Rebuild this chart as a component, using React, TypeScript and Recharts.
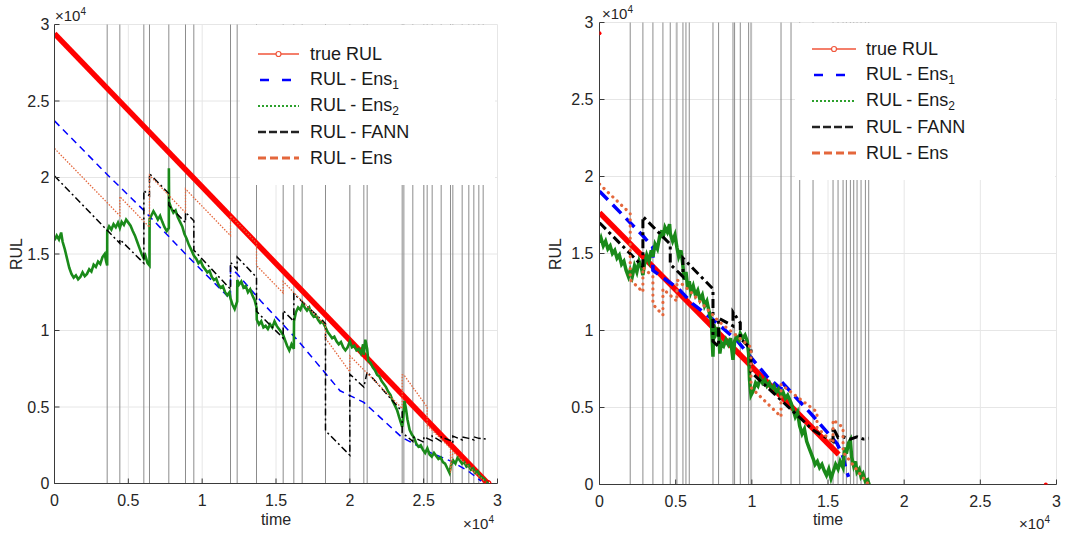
import React from 'react';
import {
  ComposedChart,
  Line,
  XAxis,
  YAxis,
  CartesianGrid,
  ReferenceLine,
  Legend,
} from 'recharts';

type Pt = [number, number];

// shared axes
const xTicks = [0, 5000, 10000, 15000, 20000, 25000, 30000];
const yTicks = [0, 5000, 10000, 15000, 20000, 25000, 30000];
const tickText = ['0', '0.5', '1', '1.5', '2', '2.5', '3'];

const legendNames = ['true RUL', 'RUL - Ens', 'RUL - Ens', 'RUL - FANN', 'RUL - Ens'];
const legendSubs = ['', '1', '2', '', ''];

// ---------- left panel ----------
const eventsA = [
  3567, 4425, 6050, 6433, 7742, 8871, 9435, 11919, 12370, 13680, 15486, 16208, 16772,
  18352, 20000, 20948, 21174, 23545, 23659, 24265, 25011, 25237, 25575, 26185, 26817,
  26975, 27607, 28058, 28397, 28736, 29029,
];

const trueA: Pt[] = [[0, 29400], [29350, 0]];

const ens1A: Pt[] = [
  [0, 23700], [3567, 20200], [6050, 17850], [8871, 15000], [11919, 12050], [11919, 14100],
  [12370, 13700], [14000, 11900], [16500, 9330], [19340, 6060], [20948, 5300], [23545, 3000],
  [25500, 2000], [26800, 1480], [28000, 825], [28900, 150],
];

const ens2A: Pt[] = [
  [0, 15900], [150, 16200], [300, 15950], [450, 16400], [550, 15800], [700, 15300], [850, 14700],
  [1000, 14100], [1150, 13700], [1300, 13450], [1450, 13600], [1600, 13350], [1750, 13500],
  [1900, 13800], [2050, 13550], [2200, 13700], [2350, 14000], [2500, 13850], [2650, 14300],
  [2800, 14150], [2950, 14500], [3100, 14350], [3250, 14800], [3400, 15000], [3500, 14500],
  [3567, 14250], [3570, 16500], [3700, 16800], [3850, 16600], [4000, 16950], [4150, 16750],
  [4300, 17050], [4425, 16700], [4550, 17100], [4700, 16900], [4850, 17250], [5000, 17050],
  [5150, 16850], [5300, 16500], [5450, 16200], [5600, 15800], [5750, 15400], [5900, 15000],
  [6050, 14700], [6150, 14900], [6300, 14400], [6433, 14250], [6440, 17300], [6550, 17500],
  [6700, 17800], [6850, 17550], [7000, 17250], [7150, 17500], [7300, 17100], [7450, 16750],
  [7600, 16500], [7742, 16700], [7745, 20600], [7760, 18400], [7900, 18000], [8050, 17700],
  [8200, 17850], [8350, 17400], [8500, 17100], [8650, 16800], [8800, 16300], [8950, 16000],
  [9100, 15600], [9250, 15300], [9435, 14900], [9600, 14700], [9750, 14400], [9900, 14550],
  [10050, 14200], [10200, 14000], [10350, 13800], [10500, 13900], [10650, 13500], [10800, 13300],
  [10950, 13400], [11100, 13000], [11250, 12800], [11400, 12900], [11550, 12500], [11700, 12300],
  [11850, 12500], [11919, 12100], [12050, 11700], [12200, 11400], [12370, 11900], [12380, 13300],
  [12500, 13000], [12650, 13200], [12800, 12800], [12950, 12900], [13100, 12500], [13250, 12700],
  [13400, 12300], [13550, 12000], [13680, 11500], [13700, 10700], [13850, 10400], [14000, 10600],
  [14150, 10200], [14300, 10300], [14450, 10100], [14600, 10400], [14750, 10200], [14900, 10600],
  [15050, 10300], [15200, 10100], [15350, 9900], [15486, 9700], [15600, 9400], [15750, 9000],
  [15900, 8700], [16050, 9100], [16208, 8800], [16220, 10600], [16350, 11200], [16500, 11500],
  [16650, 11350], [16800, 11750], [16950, 11500], [17100, 11300], [17250, 11500], [17400, 11100],
  [17550, 10900], [17700, 11000], [17850, 10700], [18000, 10500], [18150, 10600], [18352, 10200],
  [18500, 9900], [18650, 9700], [18800, 9500], [18950, 9600], [19100, 9300], [19250, 9100],
  [19400, 9250], [19550, 8900], [19700, 8700], [19850, 8900], [20000, 9300], [20150, 8900],
  [20300, 9000], [20450, 8700], [20600, 8800], [20750, 8500], [20900, 9100], [20948, 8400],
  [21050, 9400], [21174, 8800], [21250, 8000], [21400, 7900], [21550, 7600], [21700, 7400],
  [21850, 7100], [22000, 7000], [22150, 6700], [22300, 6500], [22450, 6300], [22600, 6000],
  [22750, 5800], [22900, 5400], [23050, 5100], [23200, 4800], [23350, 4300], [23545, 3700],
  [23600, 4100], [23700, 5400], [23800, 4900], [23900, 4200], [24050, 3500], [24200, 3200],
  [24350, 3000], [24500, 2600], [24650, 2400], [24800, 2500], [24950, 2200], [25100, 2000],
  [25250, 2300], [25400, 1900], [25550, 1750], [25700, 2000], [25850, 1800], [26000, 1600],
  [26150, 1700], [26300, 1400], [26450, 1300], [26600, 1000], [26750, 700], [26850, 1200],
  [27000, 1500], [27150, 1300], [27300, 1700], [27450, 1500], [27600, 1300], [27750, 1400],
  [27900, 1100], [28050, 1200], [28200, 900], [28350, 1000], [28500, 700], [28650, 800],
  [28800, 500], [28950, 400], [29100, 300], [29250, 100], [29350, 0],
];

const fannA: Pt[] = [
  [0, 20100], [3567, 16550], [4425, 15700], [4425, 15950], [6050, 14400], [6050, 19150],
  [6433, 18800], [6433, 20250], [7742, 18950], [7742, 18170], [8871, 17050], [8871, 17730],
  [9435, 17170], [9435, 15250], [11919, 12700], [11919, 14450], [12370, 14000], [12370, 14800],
  [13680, 13480], [13680, 11250], [15486, 9500], [15486, 11300], [16208, 10600], [16208, 12400],
  [18352, 10450], [18352, 3450], [20000, 1850], [20000, 7150], [20948, 6300], [21174, 7300],
  [23545, 4700], [23545, 3330], [24265, 2750], [24265, 3050], [25011, 2700], [25011, 3050],
  [25575, 2800], [25575, 3100], [26185, 2750], [26185, 3050], [26817, 2800], [26975, 2650],
  [26975, 3100], [27607, 2850], [27607, 3050], [28058, 2950], [28397, 2850], [28397, 3050],
  [28736, 2950], [29300, 2900],
];

const ensA: Pt[] = [
  [0, 21900], [4425, 17500], [4425, 18750], [6433, 16750], [6433, 20150], [8871, 17700],
  [8871, 19250], [11919, 16200], [11919, 17500], [13680, 15720], [13680, 14250], [15486, 12450],
  [15486, 13200], [18352, 10350], [18352, 9500], [20000, 7300], [20000, 8350], [23545, 4900],
  [23545, 7100], [23659, 7100], [25237, 5000], [25237, 3800], [26817, 2300], [26817, 700],
  [26975, 2100], [27607, 1500], [28397, 800], [29300, 0],
];

// ---------- right panel ----------
const eventsB = [
  2016, 2849, 3506, 4163, 4644, 5083, 5478, 5675, 5892, 7449, 7817, 8763, 8868, 9242, 9790,
  9945, 11916, 12573, 13143, 14018, 15331, 15660, 15989, 16206, 16469, 16688, 16907, 17170,
  17455, 17673,
];

const trueB: Pt[] = [[0, 17650], [15700, 1950]];
const marksB: Pt[] = [[0, 29300], [29300, 0]];

const ens1B: Pt[] = [
  [0, 19050], [2016, 17000], [2849, 16150], [3506, 15400], [3506, 13900], [5200, 12700],
  [6100, 11750], [7449, 10700], [9025, 9350], [11000, 7000], [11916, 6200], [11916, 6700],
  [12573, 6000], [14060, 4400], [15600, 2650], [15989, 1800], [16200, 900], [16350, 500],
];

const ens2B: Pt[] = [
  [0, 15700], [100, 16000], [250, 15500], [400, 15800], [550, 15300], [700, 15500], [850, 15000],
  [1000, 15200], [1150, 14700], [1300, 14900], [1450, 14300], [1600, 14500], [1750, 13900],
  [1900, 13500], [2016, 13900], [2150, 13500], [2300, 14200], [2450, 13800], [2600, 14500],
  [2750, 14100], [2849, 13600], [2950, 14300], [3100, 14900], [3250, 14500], [3400, 15200],
  [3506, 14800], [3650, 15600], [3800, 15300], [3950, 16100], [4100, 16500], [4163, 16000],
  [4300, 16700], [4450, 16400], [4600, 16900], [4644, 16300], [4800, 15800], [4950, 16200],
  [5083, 15400], [5200, 14800], [5350, 15200], [5478, 14200], [5550, 13300], [5675, 13800],
  [5800, 12700], [5892, 13200], [6000, 12500], [6150, 12900], [6300, 12300], [6450, 12600],
  [6600, 12000], [6750, 12300], [6900, 11600], [7050, 11900], [7200, 11200], [7350, 10600],
  [7449, 8300], [7500, 10400], [7650, 9800], [7817, 10200], [7900, 8500], [8000, 9200],
  [8150, 9000], [8300, 9400], [8450, 9100], [8600, 9500], [8763, 8100], [8868, 9300],
  [9000, 9600], [9150, 9400], [9242, 9800], [9400, 9500], [9550, 9700], [9700, 9300],
  [9790, 8500], [9850, 6800], [9945, 5800], [10100, 6100], [10250, 6600], [10400, 6400],
  [10550, 6900], [10700, 6600], [10850, 6800], [11000, 6400], [11150, 6600], [11300, 6200],
  [11450, 6400], [11600, 6000], [11750, 6200], [11916, 5800], [12050, 6000], [12200, 5600],
  [12350, 5800], [12573, 5300], [12700, 4900], [12850, 4400], [13000, 4700], [13143, 3800],
  [13300, 3300], [13450, 3600], [13600, 2800], [13750, 2400], [13900, 2000], [14018, 1700],
  [14150, 1300], [14300, 1500], [14450, 1100], [14600, 1300], [14750, 900], [14900, 600],
  [15050, 1000], [15200, 400], [15331, 800], [15500, 1300], [15660, 1000], [15800, 1500],
  [15989, 1100], [16100, 2400], [16206, 2000], [16350, 2700], [16469, 2900], [16550, 1800],
  [16688, 1200], [16800, 1500], [16907, 800], [17050, 1000], [17170, 500], [17300, 700],
  [17455, 200], [17600, 300], [17700, 0],
];

const fannB: Pt[] = [
  [0, 17000], [2849, 14150], [2849, 17400], [4644, 15600], [4644, 14300], [5478, 13500],
  [5478, 14700], [7449, 12700], [7449, 9300], [7817, 8950], [7817, 10800], [8763, 10300],
  [8763, 11200], [9242, 10500], [9242, 9500], [9945, 8800], [9945, 7300], [14060, 3500],
  [15331, 2800], [15331, 3700], [15660, 3050], [16000, 3100], [16469, 2950], [16907, 3100],
  [17300, 2950], [17673, 3000],
];

const ensB: Pt[] = [
  [0, 19500], [2016, 17600], [2016, 13300], [2849, 12500], [2849, 14100], [3506, 13500],
  [3506, 11700], [4163, 11000], [4163, 12700], [5083, 11900], [5083, 13300], [5892, 12600],
  [7449, 11000], [7817, 10600], [9945, 8900], [9945, 6300], [11916, 4400], [11916, 6500],
  [12573, 6000], [14280, 4700], [14280, 3700], [15331, 2700], [15331, 4200], [15989, 3700],
  [15989, 2100], [16469, 1500], [17000, 800], [17673, 0],
];

const C = {
  red: '#ff0000',
  legendRed: '#f0553a',
  blue: '#0000ff',
  green: '#1a8a1a',
  black: '#000000',
  orange: '#e4673c',
  event: '#8c8c8c',
  grid: '#e6e6e6',
  axis: '#3a3a3a',
  text: '#262626',
};

const FONT = '"Liberation Sans", Arial, Helvetica, sans-serif';

const pts = (a: Pt[]) => a.map(([t, v]) => ({ t, v }));
const fmt = (v: number) => tickText[xTicks.indexOf(v)] ?? '';

const endDot = (n: number) => (p: any) => {
  if (p.index !== n - 1) return <g key={`d${p.index}`} />;
  return (
    <circle key={`d${p.index}`} cx={p.cx} cy={p.cy} r={3} fill="none" stroke={C.red} strokeWidth={1.2} />
  );
};

const markDot = (p: any) => (
  <circle key={`m${p.index}`} cx={p.cx} cy={p.cy} r={2} fill={C.red} stroke="none" />
);

function Sample({ i, w }: { i: number; w: number }) {
  const y = 7;
  if (i === 0)
    return (
      <svg width={w} height={14}>
        <line x1={0} x2={w} y1={y} y2={y} stroke={C.legendRed} strokeWidth={1.5} />
        <circle cx={w / 2} cy={y} r={2.5} fill="#fff" stroke={C.legendRed} strokeWidth={1.2} />
      </svg>
    );
  if (i === 1)
    return (
      <svg width={w} height={14}>
        <line x1={2} x2={w} y1={y} y2={y} stroke={C.blue} strokeWidth={2.5} strokeDasharray="9 13" />
      </svg>
    );
  if (i === 2)
    return (
      <svg width={w} height={14}>
        <line x1={0} x2={w} y1={y} y2={y} stroke="#2ca02c" strokeWidth={2} strokeDasharray="2 2" />
      </svg>
    );
  if (i === 3)
    return (
      <svg width={w} height={14}>
        <line x1={0} x2={w} y1={y} y2={y} stroke="#222" strokeWidth={2.5} strokeDasharray="8 3" />
      </svg>
    );
  return (
    <svg width={w} height={14}>
      <line x1={0} x2={w} y1={y} y2={y} stroke={C.orange} strokeWidth={3} strokeDasharray="8 4" />
    </svg>
  );
}

interface LegendBox {
  left: number;
  top: number;
  width: number;
  height: number;
  padTop: number;
  padLeft: number;
  sampleW: number;
  gap: number;
  rowH: number;
}

interface PanelProps {
  x: number;
  width: number;
  top: number;
  right: number;
  xAxisH: number;
  yTickMargin: number;
  events: number[];
  trueRul: Pt[];
  trueEndDot: boolean;
  ens1: Pt[];
  ens2: Pt[];
  fann: Pt[];
  ens: Pt[];
  marks?: Pt[];
  bold: boolean;
  legend: LegendBox;
}

function Panel(p: PanelProps) {
  const lg = p.legend;
  const renderLegend = () => (
    <div style={{ paddingTop: lg.padTop, paddingLeft: lg.padLeft, fontFamily: FONT }}>
      {legendNames.map((name, i) => (
        <div key={i} style={{ height: lg.rowH, display: 'flex', alignItems: 'center' }}>
          <Sample i={i} w={lg.sampleW} />
          <span style={{ marginLeft: lg.gap, fontSize: 18, color: '#1a1a1a', whiteSpace: 'nowrap' }}>
            {name}
            {legendSubs[i] && <sub style={{ fontSize: 12, verticalAlign: -4 }}>{legendSubs[i]}</sub>}
          </span>
        </div>
      ))}
    </div>
  );

  const w = p.bold;
  return (
    <div style={{ position: 'absolute', left: p.x, top: 0 }}>
      <ComposedChart
        width={p.width}
        height={533}
        margin={{ top: p.top, right: p.right, bottom: 0, left: 0 }}
        style={{ fontFamily: FONT }}
      >
        <CartesianGrid stroke={C.grid} strokeWidth={1} />
        <XAxis
          dataKey="t"
          type="number"
          domain={[0, 30000]}
          ticks={xTicks}
          interval={0}
          allowDataOverflow
          height={p.xAxisH}
          tickFormatter={fmt}
          tickSize={-5}
          tickMargin={16}
          tick={{ fill: C.text, fontSize: 16 }}
          axisLine={{ stroke: C.axis }}
          tickLine={{ stroke: C.axis }}
          label={{ value: 'time', position: 'insideBottom', offset: 8, fill: C.text, fontSize: 16 }}
        />
        <XAxis
          xAxisId="top"
          orientation="top"
          type="number"
          domain={[0, 30000]}
          ticks={xTicks}
          interval={0}
          height={0}
          tick={false}
          tickSize={-5}
          axisLine={{ stroke: C.axis }}
          tickLine={{ stroke: C.axis }}
        />
        <YAxis
          type="number"
          domain={[0, 30000]}
          ticks={yTicks}
          interval={0}
          allowDataOverflow
          width={54.5}
          tickFormatter={fmt}
          tickSize={-5}
          tickMargin={p.yTickMargin}
          tick={{ fill: C.text, fontSize: 16 }}
          axisLine={{ stroke: C.axis }}
          tickLine={{ stroke: C.axis }}
        />
        <YAxis
          yAxisId="right"
          orientation="right"
          type="number"
          domain={[0, 30000]}
          ticks={yTicks}
          interval={0}
          width={0}
          tick={false}
          tickSize={-5}
          axisLine={{ stroke: C.axis }}
          tickLine={{ stroke: C.axis }}
        />
        {p.events.map((t) => (
          <ReferenceLine key={t} x={t} stroke={C.event} strokeWidth={1} />
        ))}
        <Line
          data={pts(p.trueRul)}
          dataKey="v"
          type="linear"
          stroke={C.red}
          strokeWidth={5.5}
          dot={p.trueEndDot ? endDot(p.trueRul.length) : false}
          isAnimationActive={false}
        />
        {p.marks && (
          <Line
            data={pts(p.marks)}
            dataKey="v"
            type="linear"
            stroke="none"
            dot={markDot}
            isAnimationActive={false}
          />
        )}
        <Line
          data={pts(p.ens1)}
          dataKey="v"
          type="linear"
          stroke={C.blue}
          strokeWidth={w ? 3.5 : 1.5}
          strokeDasharray={w ? '12 7' : '7 5'}
          dot={false}
          isAnimationActive={false}
        />
        <Line
          data={pts(p.ens2)}
          dataKey="v"
          type="linear"
          stroke={C.green}
          strokeWidth={w ? 3.5 : 2.6}
          dot={false}
          isAnimationActive={false}
        />
        <Line
          data={pts(p.fann)}
          dataKey="v"
          type="linear"
          stroke={C.black}
          strokeWidth={w ? 3 : 1.5}
          strokeDasharray={w ? '9 4 3 4' : '7 3 2 3'}
          dot={false}
          isAnimationActive={false}
        />
        <Line
          data={pts(p.ens)}
          dataKey="v"
          type="linear"
          stroke={C.orange}
          strokeWidth={w ? 3.2 : 1.3}
          strokeDasharray={w ? '0.1 6' : '1.5 1.5'}
          strokeLinecap={w ? 'round' : 'butt'}
          dot={false}
          isAnimationActive={false}
        />
        <Legend
          layout="vertical"
          align="center"
          verticalAlign="middle"
          content={renderLegend}
          wrapperStyle={{
            left: lg.left,
            top: lg.top,
            width: lg.width,
            height: lg.height,
            background: '#fff',
          }}
        />
      </ComposedChart>
    </div>
  );
}

const overlay: React.CSSProperties = {
  position: 'absolute',
  fontFamily: FONT,
  color: C.text,
  whiteSpace: 'nowrap',
};

function Exp({ x, y }: { x: number; y: number }) {
  return (
    <div style={{ ...overlay, left: x, top: y, fontSize: 15, lineHeight: '16px' }}>
      ×10<sup style={{ fontSize: 10 }}>4</sup>
    </div>
  );
}

function RulLabel({ x, y }: { x: number; y: number }) {
  return (
    <div
      style={{
        ...overlay,
        left: x,
        top: y,
        fontSize: 16,
        transform: 'translate(-50%, -50%) rotate(-90deg)',
      }}
    >
      RUL
    </div>
  );
}

export default function App() {
  return (
    <div
      style={{
        position: 'absolute',
        left: 0,
        top: 0,
        width: 1069,
        height: 533,
        background: '#fff',
        overflow: 'hidden',
      }}
    >
      <Panel
        x={0}
        width={540}
        top={24.5}
        right={42.5}
        xAxisH={49.5}
        yTickMargin={10}
        events={eventsA}
        trueRul={trueA}
        trueEndDot={true}
        ens1={ens1A}
        ens2={ens2A}
        fann={fannA}
        ens={ensA}
        bold={false}
        legend={{ left: 240, top: 25, width: 255, height: 160, padTop: 16, padLeft: 18, sampleW: 41, gap: 11, rowH: 26 }}
      />
      <Panel
        x={545}
        width={524}
        top={22.5}
        right={12.5}
        xAxisH={48.5}
        yTickMargin={11}
        events={eventsB}
        trueRul={trueB}
        trueEndDot={false}
        ens1={ens1B}
        ens2={ens2B}
        fann={fannB}
        ens={ensB}
        marks={marksB}
        bold={true}
        legend={{ left: 250, top: 23, width: 260, height: 157, padTop: 13, padLeft: 17, sampleW: 44, gap: 10, rowH: 26 }}
      />
      <RulLabel x={17} y={254} />
      <RulLabel x={556} y={254} />
      <Exp x={55} y={4} />
      <Exp x={602} y={2} />
      <Exp x={463} y={512} />
      <Exp x={1019} y={512} />
    </div>
  );
}
